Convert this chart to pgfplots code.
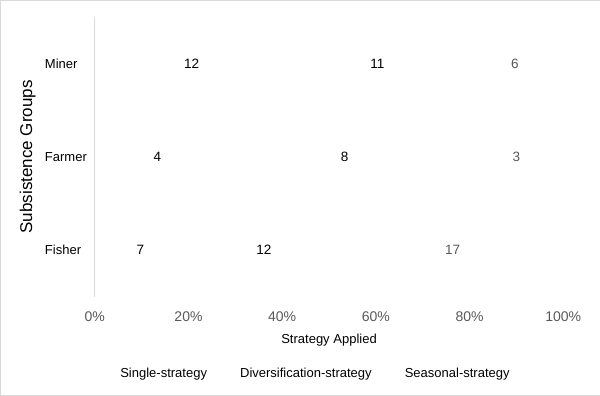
\documentclass[border=0pt]{standalone}
\usepackage{pgfplots}
\pgfplotsset{compat=1.18}
\usepackage{fontspec}
\setmainfont{Liberation Sans}
\definecolor{tickgray}{HTML}{595959}
\definecolor{linegray}{HTML}{D9D9D9}
\begin{document}
\begin{tikzpicture}[x=1pt,y=1pt]
\draw[linegray] (0.5,0.5) rectangle (599.5,395.5);
\pgfplotsset{base/.style={
  at={(95pt,99pt)}, anchor=south west, scale only axis,
  width=468pt, height=280pt,
  xmin=0, xmax=100, ymin=-0.5, ymax=2.5,
}}
\begin{axis}[base,
  xbar stacked, bar width=40pt, axis on top,
  axis lines*=left,
  x axis line style={draw=none},
  y axis line style={draw=linegray, line width=0.8pt},
  major tick length=0pt,
  xtick={0,20,40,60,80,100},
  xticklabel={\pgfmathprintnumber{\tick}\%},
  /pgf/number format/assume math mode=true,
  xticklabel style={font=\fontsize{14}{16}\selectfont, text=tickgray, inner sep=0pt, anchor=north, yshift=-14.5pt},
  ytick={0,1,2}, yticklabels={Fisher,Farmer,Miner},
  yticklabel style={font=\fontsize{13}{15}\selectfont, text=black, inner sep=0pt, anchor=west, xshift=-50pt},
  xlabel={Strategy Applied},
  xlabel style={font=\fontsize{13}{15}\selectfont, at={(axis description cs:0.5,-0.1536)}, anchor=center},
  ylabel={Subsistence Groups},
  ylabel style={font=\fontsize{17}{19}\selectfont, at={(axis description cs:-0.1432,0.5)}, anchor=center},
  legend columns=3,
  legend image code/.code={},
  legend style={draw=none, fill=none, font=\fontsize{13}{15}\selectfont,
    at={(0.470,-0.2714)}, anchor=center,
    /tikz/every even column/.append style={column sep=29pt}},
]
\addplot[fill=white, draw=none] coordinates {(19.444,0) (26.667,1) (41.379,2)};
\addplot[fill=white, draw=none] coordinates {(33.333,0) (53.333,1) (37.931,2)};
\addplot[fill=white, draw=none] coordinates {(47.222,0) (20.000,1) (20.690,2)};
\legend{Single-strategy, Diversification-strategy, Seasonal-strategy}
\end{axis}
\begin{axis}[base, hide axis]
\pgfplotsset{lbl/.style={draw=none, mark=none, only marks, nodes near coords, point meta=explicit symbolic,
  nodes near coords style={anchor=center, inner sep=0pt, font=\fontsize{13.5}{15}\selectfont, text=#1}}}
\addplot[lbl=black] coordinates {(9.722,0)[7] (13.333,1)[4] (20.690,2)[12]};
\addplot[lbl=black] coordinates {(36.111,0)[12] (53.333,1)[8] (60.345,2)[11]};
\addplot[lbl=tickgray] coordinates {(76.389,0)[17] (90.000,1)[3] (89.655,2)[6]};
\end{axis}
\end{tikzpicture}
\end{document}
